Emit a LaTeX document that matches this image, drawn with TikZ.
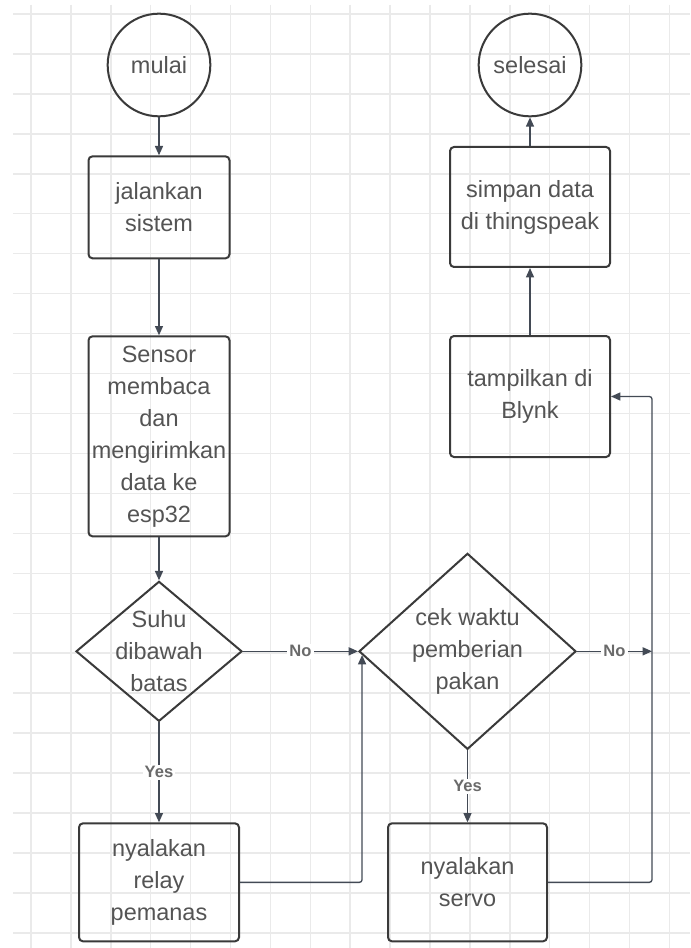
\documentclass[tikz,border=0pt]{standalone}
\usepackage{fontspec}
\setmainfont{Liberation Sans}
\usetikzlibrary{positioning}
\usetikzlibrary{shapes.geometric,arrows.meta,calc}
\definecolor{edgegray}{HTML}{3A3A3A}
\definecolor{linegray}{HTML}{434A55}
\definecolor{txtgray}{HTML}{545454}
\definecolor{lblgray}{HTML}{6A6A6A}
\definecolor{gridgray}{HTML}{EAEAEA}
\tikzset{%
  proc/.style = {rectangle,draw=edgegray,line width=1.5pt,rounded corners=3pt,
        align=center,inner sep=0pt,text=txtgray},
  term/.style = {circle,draw=edgegray,line width=1.5pt,minimum size=77pt,
        inner sep=0pt,text=txtgray},
  dec/.style = {diamond,draw=edgegray,line width=1.5pt,inner sep=0pt},
  conn/.style = {-{Triangle[length=7pt,width=6pt]},draw=linegray,line width=1pt},
  lbl/.style = {fill=white,text=lblgray,inner sep=1.5pt,
        font=\bfseries\fontsize{12.4}{14}\selectfont},
  gridline/.style = {draw=gridgray,line width=1.1pt}
}
\begin{document}
\begin{tikzpicture}[x=0.75pt,y=-0.75pt,font=\fontsize{17.6}{24}\selectfont]
                \useasboundingbox[fill=white] (0,0) rectangle (690,948);
                \foreach \gx in {0,...,16}
                  \draw[gridline] ({31+39.9*\gx},5) -- ({31+39.9*\gx},948);
                \foreach \gy in {0,...,23}
                  \draw[gridline] (13,{14+39.95*\gy}) -- (690,{14+39.95*\gy});

                \node[term] (mulai) at (159,65) {mulai};
                \node[proc, minimum width=105.75pt, minimum height=76.5pt] (jalan)
                      [below=28.5pt of mulai] {jalankan\\sistem};
                \node[proc, minimum width=105.75pt, minimum height=150pt] (sensor)
                      [below=57pt of jalan] {Sensor\\membaca\\dan\\mengirimkan\\data ke\\esp32};
                \node[dec, minimum width=124.5pt, minimum height=105pt,
                      label={[text=txtgray,align=center]center:Suhu\\dibawah\\batas}] (suhu)
                      [below=32.25pt of sensor] {};
                \node[dec, minimum width=162.75pt, minimum height=147pt,
                      label={[text=txtgray,align=center]center:cek waktu\\pemberian\\pakan}] (cek)
                      [right=86.25pt of suhu] {};
                \node[proc, minimum width=120pt, minimum height=88.5pt] (relay)
                      [below=75pt of suhu] {nyalakan\\relay\\pemanas};
                \node[proc, minimum width=119.25pt, minimum height=88.5pt] (servo)
                      [below=54pt of cek] {nyalakan\\servo};
                \node[term] (selesai) at (530,65) {selesai};
                \node[proc, minimum width=120pt, minimum height=90pt] (simpan)
                      [below=21.5pt of selesai] {simpan data\\di thingspeak};
                \node[proc, minimum width=120pt, minimum height=90.75pt] (blynk)
                      [below=50.25pt of simpan] {tampilkan di\\Blynk};
                \coordinate (jn) at ($(cek.east)+(75,0)$);

                \draw[conn] (mulai) -- (jalan);
                \draw[conn] (jalan) -- (sensor);
                \draw[conn] (sensor) -- (suhu);
                \draw[conn] (suhu.east) -- node[lbl] {No} (cek.west);
                \draw[conn] (suhu.south) -- node[lbl] {Yes} (relay.north);
                \draw[conn, rounded corners=2pt] (relay.east) -| (cek.182.5);
                \draw[conn] (cek.south) -- node[lbl] {Yes} (servo.north);
                \draw[conn] (cek.east) -- node[lbl] {No} (jn);
                \draw[conn, rounded corners=2pt] (servo.east) -| (jn |- blynk.east) -- (blynk.east);
                \draw[conn] (blynk) -- (simpan);
                \draw[conn] (simpan) -- (selesai);
            \end{tikzpicture}
\end{document}
